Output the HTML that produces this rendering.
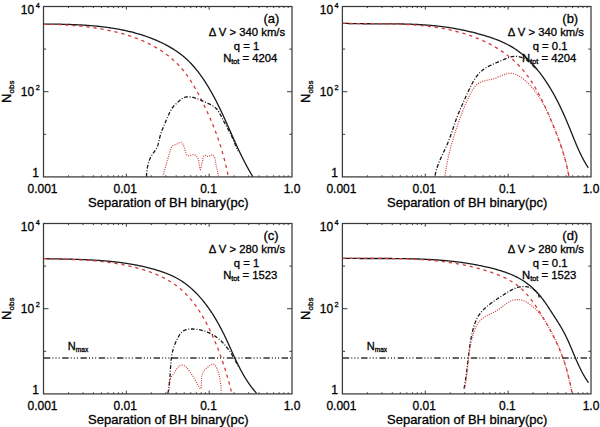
<!DOCTYPE html>
<html><head><meta charset="utf-8"><style>
html,body{margin:0;padding:0;background:#fff;}
svg{display:block;font-family:"Liberation Sans", sans-serif;}
text{stroke:#000;stroke-width:0.3px;paint-order:stroke;}
</style></head><body>
<svg width="600" height="427" viewBox="0 0 600 427" fill="#000">
<rect x="43.5" y="6.5" width="248.50" height="170.40" fill="none" stroke="#3a3a3a" stroke-width="1.25"/>
<path d="M68.44 176.9v-1.6M68.44 6.5v1.6M83.02 176.9v-1.6M83.02 6.5v1.6M93.37 176.9v-1.6M93.37 6.5v1.6M101.40 176.9v-1.6M101.40 6.5v1.6M107.96 176.9v-1.6M107.96 6.5v1.6M113.50 176.9v-1.6M113.50 6.5v1.6M118.31 176.9v-1.6M118.31 6.5v1.6M122.54 176.9v-1.6M122.54 6.5v1.6M126.33 176.9v-3.2M126.33 6.5v3.2M151.27 176.9v-1.6M151.27 6.5v1.6M165.85 176.9v-1.6M165.85 6.5v1.6M176.20 176.9v-1.6M176.20 6.5v1.6M184.23 176.9v-1.6M184.23 6.5v1.6M190.79 176.9v-1.6M190.79 6.5v1.6M196.34 176.9v-1.6M196.34 6.5v1.6M201.14 176.9v-1.6M201.14 6.5v1.6M205.38 176.9v-1.6M205.38 6.5v1.6M209.17 176.9v-3.2M209.17 6.5v3.2M234.10 176.9v-1.6M234.10 6.5v1.6M248.69 176.9v-1.6M248.69 6.5v1.6M259.04 176.9v-1.6M259.04 6.5v1.6M267.06 176.9v-1.6M267.06 6.5v1.6M273.62 176.9v-1.6M273.62 6.5v1.6M279.17 176.9v-1.6M279.17 6.5v1.6M283.97 176.9v-1.6M283.97 6.5v1.6M288.21 176.9v-1.6M288.21 6.5v1.6M43.5 134.30h2.7M292.0 134.30h-2.7M43.5 91.70h5M292.0 91.70h-5M43.5 49.10h2.7M292.0 49.10h-2.7" stroke="#3a3a3a" stroke-width="1" fill="none"/>
<text x="42.50" y="193.30" font-size="12" text-anchor="middle">0.001</text>
<text x="125.23" y="193.30" font-size="12" text-anchor="middle">0.01</text>
<text x="208.47" y="193.30" font-size="12" text-anchor="middle">0.1</text>
<text x="292.00" y="193.30" font-size="12" text-anchor="middle">1.0</text>
<text x="39.00" y="177.00" font-size="12" text-anchor="end">1</text>
<text x="34.20" y="95.90" font-size="12" text-anchor="end">10</text>
<text x="35.70" y="90.00" font-size="7.3">2</text>
<text x="34.20" y="13.75" font-size="12" text-anchor="end">10</text>
<text x="35.70" y="7.85" font-size="7.3">4</text>
<text x="88.10" y="207.40" font-size="13">Separation of BH binary(pc)</text>
<g transform="translate(11.30,102.90) rotate(-90)"><text x="0" y="0" font-size="13">N</text><text x="9.4" y="2.7" font-size="8">obs</text></g>
<rect x="342.4" y="6.5" width="248.60" height="170.40" fill="none" stroke="#3a3a3a" stroke-width="1.25"/>
<path d="M367.35 176.9v-1.6M367.35 6.5v1.6M381.94 176.9v-1.6M381.94 6.5v1.6M392.29 176.9v-1.6M392.29 6.5v1.6M400.32 176.9v-1.6M400.32 6.5v1.6M406.88 176.9v-1.6M406.88 6.5v1.6M412.43 176.9v-1.6M412.43 6.5v1.6M417.24 176.9v-1.6M417.24 6.5v1.6M421.47 176.9v-1.6M421.47 6.5v1.6M425.27 176.9v-3.2M425.27 6.5v3.2M450.21 176.9v-1.6M450.21 6.5v1.6M464.80 176.9v-1.6M464.80 6.5v1.6M475.16 176.9v-1.6M475.16 6.5v1.6M483.19 176.9v-1.6M483.19 6.5v1.6M489.75 176.9v-1.6M489.75 6.5v1.6M495.30 176.9v-1.6M495.30 6.5v1.6M500.10 176.9v-1.6M500.10 6.5v1.6M504.34 176.9v-1.6M504.34 6.5v1.6M508.13 176.9v-3.2M508.13 6.5v3.2M533.08 176.9v-1.6M533.08 6.5v1.6M547.67 176.9v-1.6M547.67 6.5v1.6M558.02 176.9v-1.6M558.02 6.5v1.6M566.05 176.9v-1.6M566.05 6.5v1.6M572.62 176.9v-1.6M572.62 6.5v1.6M578.16 176.9v-1.6M578.16 6.5v1.6M582.97 176.9v-1.6M582.97 6.5v1.6M587.21 176.9v-1.6M587.21 6.5v1.6M342.4 134.30h2.7M591.0 134.30h-2.7M342.4 91.70h5M591.0 91.70h-5M342.4 49.10h2.7M591.0 49.10h-2.7" stroke="#3a3a3a" stroke-width="1" fill="none"/>
<text x="341.40" y="193.30" font-size="12" text-anchor="middle">0.001</text>
<text x="424.17" y="193.30" font-size="12" text-anchor="middle">0.01</text>
<text x="507.43" y="193.30" font-size="12" text-anchor="middle">0.1</text>
<text x="591.00" y="193.30" font-size="12" text-anchor="middle">1.0</text>
<text x="337.90" y="177.00" font-size="12" text-anchor="end">1</text>
<text x="333.10" y="95.90" font-size="12" text-anchor="end">10</text>
<text x="334.60" y="90.00" font-size="7.3">2</text>
<text x="333.10" y="13.75" font-size="12" text-anchor="end">10</text>
<text x="334.60" y="7.85" font-size="7.3">4</text>
<text x="387.00" y="207.40" font-size="13">Separation of BH binary(pc)</text>
<g transform="translate(310.20,102.90) rotate(-90)"><text x="0" y="0" font-size="13">N</text><text x="9.4" y="2.7" font-size="8">obs</text></g>
<rect x="43.5" y="223.5" width="248.50" height="170.40" fill="none" stroke="#3a3a3a" stroke-width="1.25"/>
<path d="M68.44 393.9v-1.6M68.44 223.5v1.6M83.02 393.9v-1.6M83.02 223.5v1.6M93.37 393.9v-1.6M93.37 223.5v1.6M101.40 393.9v-1.6M101.40 223.5v1.6M107.96 393.9v-1.6M107.96 223.5v1.6M113.50 393.9v-1.6M113.50 223.5v1.6M118.31 393.9v-1.6M118.31 223.5v1.6M122.54 393.9v-1.6M122.54 223.5v1.6M126.33 393.9v-3.2M126.33 223.5v3.2M151.27 393.9v-1.6M151.27 223.5v1.6M165.85 393.9v-1.6M165.85 223.5v1.6M176.20 393.9v-1.6M176.20 223.5v1.6M184.23 393.9v-1.6M184.23 223.5v1.6M190.79 393.9v-1.6M190.79 223.5v1.6M196.34 393.9v-1.6M196.34 223.5v1.6M201.14 393.9v-1.6M201.14 223.5v1.6M205.38 393.9v-1.6M205.38 223.5v1.6M209.17 393.9v-3.2M209.17 223.5v3.2M234.10 393.9v-1.6M234.10 223.5v1.6M248.69 393.9v-1.6M248.69 223.5v1.6M259.04 393.9v-1.6M259.04 223.5v1.6M267.06 393.9v-1.6M267.06 223.5v1.6M273.62 393.9v-1.6M273.62 223.5v1.6M279.17 393.9v-1.6M279.17 223.5v1.6M283.97 393.9v-1.6M283.97 223.5v1.6M288.21 393.9v-1.6M288.21 223.5v1.6M43.5 351.30h2.7M292.0 351.30h-2.7M43.5 308.70h5M292.0 308.70h-5M43.5 266.10h2.7M292.0 266.10h-2.7" stroke="#3a3a3a" stroke-width="1" fill="none"/>
<text x="42.50" y="410.30" font-size="12" text-anchor="middle">0.001</text>
<text x="125.23" y="410.30" font-size="12" text-anchor="middle">0.01</text>
<text x="208.47" y="410.30" font-size="12" text-anchor="middle">0.1</text>
<text x="292.00" y="410.30" font-size="12" text-anchor="middle">1.0</text>
<text x="39.00" y="394.00" font-size="12" text-anchor="end">1</text>
<text x="34.20" y="312.90" font-size="12" text-anchor="end">10</text>
<text x="35.70" y="307.00" font-size="7.3">2</text>
<text x="34.20" y="230.75" font-size="12" text-anchor="end">10</text>
<text x="35.70" y="224.85" font-size="7.3">4</text>
<text x="88.10" y="424.40" font-size="13">Separation of BH binary(pc)</text>
<g transform="translate(11.30,319.90) rotate(-90)"><text x="0" y="0" font-size="13">N</text><text x="9.4" y="2.7" font-size="8">obs</text></g>
<rect x="342.4" y="223.5" width="248.60" height="170.40" fill="none" stroke="#3a3a3a" stroke-width="1.25"/>
<path d="M367.35 393.9v-1.6M367.35 223.5v1.6M381.94 393.9v-1.6M381.94 223.5v1.6M392.29 393.9v-1.6M392.29 223.5v1.6M400.32 393.9v-1.6M400.32 223.5v1.6M406.88 393.9v-1.6M406.88 223.5v1.6M412.43 393.9v-1.6M412.43 223.5v1.6M417.24 393.9v-1.6M417.24 223.5v1.6M421.47 393.9v-1.6M421.47 223.5v1.6M425.27 393.9v-3.2M425.27 223.5v3.2M450.21 393.9v-1.6M450.21 223.5v1.6M464.80 393.9v-1.6M464.80 223.5v1.6M475.16 393.9v-1.6M475.16 223.5v1.6M483.19 393.9v-1.6M483.19 223.5v1.6M489.75 393.9v-1.6M489.75 223.5v1.6M495.30 393.9v-1.6M495.30 223.5v1.6M500.10 393.9v-1.6M500.10 223.5v1.6M504.34 393.9v-1.6M504.34 223.5v1.6M508.13 393.9v-3.2M508.13 223.5v3.2M533.08 393.9v-1.6M533.08 223.5v1.6M547.67 393.9v-1.6M547.67 223.5v1.6M558.02 393.9v-1.6M558.02 223.5v1.6M566.05 393.9v-1.6M566.05 223.5v1.6M572.62 393.9v-1.6M572.62 223.5v1.6M578.16 393.9v-1.6M578.16 223.5v1.6M582.97 393.9v-1.6M582.97 223.5v1.6M587.21 393.9v-1.6M587.21 223.5v1.6M342.4 351.30h2.7M591.0 351.30h-2.7M342.4 308.70h5M591.0 308.70h-5M342.4 266.10h2.7M591.0 266.10h-2.7" stroke="#3a3a3a" stroke-width="1" fill="none"/>
<text x="341.40" y="410.30" font-size="12" text-anchor="middle">0.001</text>
<text x="424.17" y="410.30" font-size="12" text-anchor="middle">0.01</text>
<text x="507.43" y="410.30" font-size="12" text-anchor="middle">0.1</text>
<text x="591.00" y="410.30" font-size="12" text-anchor="middle">1.0</text>
<text x="337.90" y="394.00" font-size="12" text-anchor="end">1</text>
<text x="333.10" y="312.90" font-size="12" text-anchor="end">10</text>
<text x="334.60" y="307.00" font-size="7.3">2</text>
<text x="333.10" y="230.75" font-size="12" text-anchor="end">10</text>
<text x="334.60" y="224.85" font-size="7.3">4</text>
<text x="387.00" y="424.40" font-size="13">Separation of BH binary(pc)</text>
<g transform="translate(310.20,319.90) rotate(-90)"><text x="0" y="0" font-size="13">N</text><text x="9.4" y="2.7" font-size="8">obs</text></g>
<text x="263.40" y="23.40" font-size="13">(a)</text>
<text x="208.80" y="36.30" font-size="11.3">Δ V &gt; 340 km/s</text>
<text x="233.80" y="49.80" font-size="11.3">q = 1</text>
<text x="223.20" y="62.00" font-size="11.3">N<tspan font-size="7.2" dy="2.3">tot</tspan><tspan dy="-2.3"> = 4204</tspan></text>
<text x="562.30" y="23.40" font-size="13">(b)</text>
<text x="507.70" y="36.30" font-size="11.3">Δ V &gt; 340 km/s</text>
<text x="532.70" y="49.80" font-size="11.3">q = 0.1</text>
<text x="522.10" y="62.00" font-size="11.3">N<tspan font-size="7.2" dy="2.3">tot</tspan><tspan dy="-2.3"> = 4204</tspan></text>
<text x="263.40" y="240.40" font-size="13">(c)</text>
<text x="208.80" y="253.30" font-size="11.3">Δ V &gt; 280 km/s</text>
<text x="233.80" y="266.80" font-size="11.3">q = 1</text>
<text x="223.20" y="279.00" font-size="11.3">N<tspan font-size="7.2" dy="2.3">tot</tspan><tspan dy="-2.3"> = 1523</tspan></text>
<text x="562.30" y="240.40" font-size="13">(d)</text>
<text x="507.70" y="253.30" font-size="11.3">Δ V &gt; 280 km/s</text>
<text x="532.70" y="266.80" font-size="11.3">q = 0.1</text>
<text x="522.10" y="279.00" font-size="11.3">N<tspan font-size="7.2" dy="2.3">tot</tspan><tspan dy="-2.3"> = 1523</tspan></text>
<text x="67.80" y="349.9" font-size="11">N<tspan font-size="6.6" dy="1.9">max</tspan></text>
<text x="366.70" y="349.9" font-size="11">N<tspan font-size="6.6" dy="1.9">max</tspan></text>
<defs><clipPath id="clipa"><rect x="43.5" y="6.5" width="248.50" height="170.40"/></clipPath><clipPath id="clipb"><rect x="342.4" y="6.5" width="248.60" height="170.40"/></clipPath><clipPath id="clipc"><rect x="43.5" y="223.5" width="248.50" height="170.40"/></clipPath><clipPath id="clipd"><rect x="342.4" y="223.5" width="248.60" height="170.40"/></clipPath></defs>
<g clip-path="url(#clipa)">
<path d="M43.57 24.11L44.55 24.11L45.53 24.12L46.51 24.12L47.49 24.12L48.47 24.13L49.46 24.13L50.44 24.14L51.43 24.15L52.42 24.15L53.41 24.16L54.40 24.17L55.39 24.18L56.39 24.20L57.38 24.21L58.38 24.22L59.38 24.24L60.37 24.26L61.37 24.27L62.37 24.29L63.37 24.31L64.37 24.34L65.38 24.36L66.38 24.39L67.38 24.41L68.39 24.44L69.39 24.47L70.40 24.51L71.40 24.54L72.41 24.58L73.42 24.62L74.43 24.66L75.43 24.70L76.44 24.74L77.45 24.79L78.46 24.84L79.47 24.89L80.48 24.94L81.49 25.00L82.50 25.06L83.51 25.12L84.52 25.18L85.53 25.25L86.54 25.32L87.55 25.39L88.56 25.46L89.57 25.54L90.58 25.62L91.59 25.70L92.60 25.79L93.61 25.88L94.62 25.97L95.63 26.06L96.64 26.16L97.65 26.26L98.65 26.37L99.66 26.48L100.67 26.59L101.67 26.70L102.68 26.82L103.69 26.94L104.69 27.07L105.69 27.20L106.70 27.33L107.70 27.47L108.70 27.61L109.70 27.75L110.70 27.90L111.70 28.05L112.70 28.20L113.70 28.36L114.69 28.53L115.69 28.70L116.68 28.87L117.67 29.05L118.67 29.23L119.66 29.41L120.65 29.60L121.63 29.80L122.62 29.99L123.61 30.20L124.59 30.40L125.57 30.62L126.55 30.83L127.53 31.06L128.51 31.28L129.49 31.51L130.46 31.75L131.44 31.99L132.41 32.24L133.38 32.49L134.35 32.75L135.31 33.01L136.28 33.28L137.24 33.55L138.20 33.83L139.16 34.11L140.12 34.40L141.07 34.69L142.03 34.99L142.98 35.30L143.93 35.61L144.87 35.93L145.82 36.25L146.76 36.58L147.70 36.91L148.64 37.25L149.57 37.60L150.51 37.95L151.44 38.31L152.37 38.67L153.29 39.04L154.21 39.42L155.14 39.80L156.05 40.19L156.97 40.59L157.88 40.99L158.79 41.40L159.70 41.81L160.60 42.24L161.51 42.66L162.41 43.10L163.30 43.54L164.20 43.99L165.09 44.45L165.97 44.91L166.86 45.38L167.74 45.85L168.61 46.34L169.49 46.83L170.35 47.33L171.22 47.84L172.08 48.35L172.93 48.87L173.78 49.40L174.62 49.94L175.46 50.49L176.29 51.04L177.12 51.61L177.94 52.18L178.75 52.76L179.56 53.35L180.36 53.95L181.15 54.56L181.94 55.18L182.72 55.80L183.49 56.44L184.26 57.09L185.01 57.74L185.76 58.40L186.50 59.08L187.23 59.76L187.96 60.45L188.68 61.15L189.39 61.86L190.09 62.57L190.79 63.30L191.47 64.03L192.16 64.77L192.83 65.51L193.50 66.26L194.16 67.02L194.82 67.79L195.46 68.56L196.11 69.34L196.74 70.13L197.37 70.92L197.99 71.71L198.61 72.51L199.22 73.32L199.82 74.13L200.42 74.95L201.01 75.77L201.60 76.59L202.18 77.42L202.76 78.25L203.33 79.09L203.89 79.93L204.45 80.77L205.00 81.62L205.55 82.47L206.09 83.32L206.63 84.17L207.17 85.03L207.69 85.89L208.22 86.75L208.74 87.61L209.25 88.48L209.76 89.34L210.27 90.21L210.77 91.09L211.26 91.96L211.76 92.83L212.25 93.71L212.73 94.59L213.21 95.47L213.69 96.36L214.16 97.24L214.63 98.13L215.10 99.02L215.56 99.91L216.02 100.80L216.48 101.69L216.94 102.58L217.39 103.48L217.83 104.38L218.28 105.27L218.72 106.17L219.16 107.08L219.60 107.98L220.04 108.88L220.47 109.79L220.90 110.69L221.33 111.60L221.75 112.50L222.18 113.41L222.60 114.32L223.02 115.23L223.44 116.14L223.86 117.05L224.28 117.97L224.69 118.88L225.11 119.79L225.52 120.71L225.93 121.62L226.34 122.54L226.75 123.45L227.16 124.37L227.57 125.28L227.98 126.20L228.38 127.12L228.79 128.03L229.20 128.95L229.60 129.87L230.01 130.79L230.42 131.70L230.82 132.62L231.23 133.54L231.64 134.45L232.04 135.37L232.45 136.29L232.86 137.20L233.27 138.12L233.68 139.04L234.09 139.95L234.50 140.87L234.91 141.78L235.32 142.69L235.74 143.61L236.15 144.52L236.57 145.43L236.99 146.34L237.41 147.25L237.83 148.16L238.25 149.07L238.68 149.98L239.11 150.89L239.54 151.79L239.97 152.70L240.40 153.60L240.84 154.51L241.28 155.41L241.72 156.31L242.16 157.21L242.61 158.11L243.06 159.00L243.51 159.90L243.96 160.79L244.42 161.68L244.88 162.57L245.35 163.46L245.82 164.35L246.29 165.24L246.76 166.12L247.24 167.00L247.73 167.88L248.21 168.76L248.70 169.64L249.20 170.52L249.70 171.39L250.20 172.26L250.71 173.13L251.22 174.00L251.73 174.86L252.25 175.72L252.78 176.58" fill="none" stroke="#1a1a1a" stroke-width="1.3" stroke-linejoin="round"/>
<path d="M43.85 24.27L44.79 24.28L45.72 24.29L46.67 24.31L47.61 24.33L48.56 24.34L49.51 24.36L50.47 24.39L51.42 24.41L52.38 24.44L53.35 24.46L54.31 24.49L55.28 24.53L56.25 24.56L57.22 24.60L58.20 24.63L59.18 24.67L60.16 24.72L61.14 24.76L62.12 24.81L63.11 24.86L64.10 24.91L65.09 24.96L66.08 25.02L67.07 25.08L68.07 25.14L69.07 25.21L70.07 25.28L71.07 25.35L72.07 25.42L73.07 25.49L74.08 25.57L75.08 25.66L76.09 25.74L77.10 25.83L78.10 25.92L79.11 26.01L80.12 26.11L81.14 26.21L82.15 26.32L83.16 26.42L84.17 26.53L85.19 26.65L86.20 26.77L87.22 26.89L88.23 27.01L89.25 27.14L90.26 27.27L91.28 27.41L92.29 27.55L93.31 27.69L94.32 27.84L95.34 27.99L96.35 28.14L97.37 28.30L98.38 28.46L99.39 28.63L100.40 28.80L101.42 28.98L102.43 29.16L103.44 29.34L104.45 29.53L105.46 29.72L106.46 29.92L107.47 30.12L108.48 30.32L109.48 30.53L110.48 30.75L111.49 30.97L112.49 31.19L113.48 31.42L114.48 31.65L115.48 31.89L116.47 32.14L117.46 32.38L118.45 32.64L119.44 32.90L120.43 33.16L121.41 33.43L122.39 33.70L123.37 33.98L124.35 34.26L125.33 34.55L126.30 34.85L127.27 35.15L128.24 35.45L129.20 35.76L130.17 36.08L131.13 36.40L132.08 36.73L133.04 37.06L133.99 37.40L134.94 37.75L135.88 38.10L136.82 38.46L137.76 38.82L138.70 39.19L139.63 39.56L140.56 39.94L141.48 40.33L142.40 40.72L143.32 41.12L144.24 41.53L145.15 41.94L146.05 42.35L146.95 42.78L147.85 43.21L148.75 43.65L149.64 44.09L150.52 44.54L151.40 45.00L152.28 45.46L153.15 45.93L154.02 46.41L154.88 46.89L155.74 47.38L156.59 47.88L157.44 48.38L158.29 48.89L159.13 49.41L159.96 49.94L160.79 50.47L161.61 51.01L162.43 51.56L163.24 52.11L164.05 52.67L164.85 53.24L165.65 53.82L166.44 54.40L167.23 54.99L168.01 55.59L168.78 56.20L169.55 56.81L170.31 57.43L171.07 58.06L171.82 58.70L172.56 59.34L173.30 60.00L174.03 60.66L174.76 61.33L175.47 62.00L176.19 62.69L176.89 63.38L177.59 64.08L178.28 64.79L178.97 65.51L179.65 66.24L180.32 66.97L180.98 67.71L181.64 68.46L182.29 69.22L182.93 69.99L183.57 70.77L184.20 71.55L184.82 72.35L185.43 73.15L186.04 73.96L186.64 74.77L187.24 75.59L187.82 76.42L188.41 77.26L188.98 78.10L189.55 78.95L190.11 79.80L190.67 80.66L191.22 81.53L191.77 82.40L192.31 83.27L192.84 84.15L193.37 85.03L193.90 85.92L194.42 86.81L194.93 87.70L195.44 88.60L195.94 89.50L196.45 90.40L196.94 91.30L197.43 92.21L197.92 93.11L198.40 94.02L198.88 94.93L199.36 95.84L199.83 96.75L200.30 97.66L200.77 98.57L201.23 99.49L201.69 100.40L202.14 101.31L202.59 102.21L203.04 103.12L203.49 104.03L203.93 104.94L204.37 105.84L204.81 106.75L205.24 107.65L205.68 108.56L206.10 109.46L206.53 110.37L206.95 111.27L207.37 112.18L207.79 113.09L208.20 113.99L208.61 114.90L209.02 115.81L209.42 116.71L209.82 117.62L210.22 118.53L210.62 119.44L211.01 120.36L211.40 121.27L211.78 122.18L212.17 123.10L212.54 124.02L212.92 124.94L213.29 125.86L213.66 126.79L214.03 127.71L214.40 128.64L214.76 129.57L215.11 130.50L215.47 131.44L215.82 132.37L216.17 133.31L216.51 134.25L216.85 135.19L217.19 136.13L217.53 137.08L217.86 138.03L218.19 138.97L218.51 139.92L218.84 140.88L219.16 141.83L219.47 142.78L219.78 143.74L220.09 144.70L220.40 145.66L220.70 146.62L221.00 147.58L221.30 148.54L221.59 149.51L221.88 150.47L222.16 151.44L222.44 152.41L222.72 153.38L223.00 154.35L223.27 155.32L223.54 156.29L223.80 157.27L224.06 158.24L224.32 159.22L224.58 160.19L224.83 161.17L225.07 162.15L225.32 163.13L225.56 164.11L225.79 165.09L226.03 166.07L226.25 167.05L226.48 168.03L226.70 169.02L226.92 170.00L227.14 170.98L227.35 171.97L227.55 172.95L227.76 173.94L227.96 174.92L228.15 175.91L228.35 176.89" fill="none" stroke="#d43c3c" stroke-width="1.3" stroke-dasharray="3.3 3.8"/>
<path d="M146.40 176.70L146.47 175.72L146.54 174.74L146.62 173.75L146.71 172.75L146.82 171.75L146.94 170.74L147.07 169.74L147.22 168.73L147.39 167.72L147.57 166.72L147.78 165.72L148.00 164.73L148.25 163.74L148.52 162.76L148.82 161.79L149.14 160.83L149.49 159.88L149.87 158.94L150.28 158.02L150.72 157.12L151.20 156.23L151.70 155.36L152.24 154.51L152.82 153.68L153.41 152.86L154.01 152.05L154.61 151.24L155.20 150.43L155.76 149.60L156.29 148.76L156.77 147.89L157.19 146.99L157.56 146.07L157.88 145.13L158.17 144.16L158.42 143.19L158.66 142.20L158.88 141.20L159.10 140.21L159.32 139.21L159.56 138.22L159.81 137.24L160.07 136.26L160.35 135.29L160.65 134.33L160.96 133.37L161.28 132.43L161.62 131.48L161.96 130.54L162.32 129.60L162.68 128.67L163.06 127.74L163.44 126.82L163.83 125.89L164.22 124.97L164.62 124.05L165.02 123.13L165.42 122.20L165.83 121.28L166.24 120.36L166.64 119.44L167.05 118.51L167.46 117.58L167.86 116.65L168.26 115.71L168.66 114.77L169.06 113.84L169.47 112.91L169.89 111.99L170.33 111.09L170.80 110.21L171.30 109.35L171.83 108.52L172.40 107.73L173.02 106.97L173.67 106.23L174.35 105.52L175.05 104.82L175.77 104.14L176.51 103.45L177.25 102.76L178.00 102.06L178.74 101.35L179.49 100.64L180.26 99.96L181.04 99.31L181.84 98.71L182.68 98.19L183.55 97.74L184.47 97.40L185.42 97.15L186.40 97.00L187.39 96.91L188.37 96.88L189.35 96.91L190.32 96.99L191.29 97.11L192.26 97.28L193.22 97.49L194.18 97.73L195.14 98.01L196.09 98.31L197.04 98.65L197.99 99.01L198.93 99.38L199.88 99.78L200.82 100.18L201.76 100.60L202.70 101.02L203.63 101.45L204.57 101.87L205.51 102.29L206.44 102.70L207.37 103.12L208.29 103.53L209.20 103.95L210.10 104.38L210.99 104.83L211.85 105.29L212.69 105.79L213.50 106.31L214.29 106.86L215.04 107.46L215.76 108.10L216.45 108.78L217.09 109.52L217.70 110.29L218.28 111.11L218.83 111.95L219.36 112.82L219.87 113.72L220.37 114.63L220.85 115.56L221.32 116.50L221.78 117.44L222.24 118.37L222.70 119.31L223.17 120.23L223.64 121.13L224.12 122.03L224.60 122.92L225.08 123.79L225.57 124.66L226.05 125.53L226.54 126.39L227.03 127.25L227.51 128.11L227.99 128.97L228.47 129.83L228.94 130.70L229.41 131.57L229.86 132.45L230.32 133.34L230.76 134.24L231.20 135.15L231.62 136.07L232.05 136.99L232.46 137.92L232.87 138.85L233.27 139.78L233.67 140.72L234.06 141.66L234.45 142.61L234.84 143.55L235.22 144.49L235.59 145.43L235.97 146.37L236.33 147.30L236.70 148.23L237.07 149.16L237.43 150.08L237.79 150.99" fill="none" stroke="#1a1a1a" stroke-width="1.3" stroke-dasharray="3.8 1.7 1 1.7"/>
<path d="M162.86 176.70L163.14 175.71L163.42 174.72L163.69 173.74L163.96 172.76L164.23 171.78L164.49 170.80L164.76 169.83L165.02 168.86L165.29 167.90L165.55 166.93L165.81 165.97L166.08 165.01L166.34 164.04L166.61 163.08L166.87 162.12L167.14 161.16L167.41 160.20L167.69 159.23L167.97 158.27L168.25 157.30L168.53 156.33L168.82 155.36L169.11 154.39L169.41 153.41L169.71 152.44L170.02 151.45L170.33 150.47L170.65 149.48L171.00 148.51L171.41 147.60L171.90 146.78L172.50 146.08L173.23 145.53L174.09 145.10L175.04 144.75L176.02 144.41L177.02 144.02L177.99 143.55L178.90 143.00L179.75 142.52L180.55 142.24L181.29 142.31L181.97 142.81L182.59 143.62L183.14 144.64L183.61 145.72L184.02 146.75L184.36 147.66L184.65 148.50L184.91 149.35L185.18 150.26L185.45 151.29L185.77 152.41L186.13 153.54L186.57 154.56L187.10 155.37L187.73 155.85L188.48 155.98L189.32 155.85L190.25 155.53L191.26 155.13L192.30 154.76L193.34 154.56L194.32 154.68L195.22 155.09L196.02 155.70L196.73 156.45L197.32 157.28L197.79 158.11L198.16 158.97L198.45 159.86L198.67 160.77L198.84 161.74L198.99 162.75L199.12 163.83L199.26 164.97L199.43 166.19L199.63 167.45L199.86 168.59L200.11 169.37L200.37 169.59L200.63 169.14L200.87 168.21L201.12 167.03L201.36 165.82L201.60 164.73L201.83 163.73L202.06 162.78L202.29 161.83L202.51 160.82L202.72 159.71L202.94 158.51L203.20 157.33L203.52 156.29L203.96 155.53L204.54 155.17L205.28 155.31L206.16 155.76L207.12 156.24L208.09 156.48L209.03 156.25L209.92 155.72L210.79 155.14L211.64 154.78L212.47 154.86L213.24 155.35L213.91 156.11L214.41 156.97L214.79 157.92L215.06 158.93L215.26 159.98L215.41 161.05L215.55 162.11L215.71 163.16L215.88 164.18L216.08 165.18L216.30 166.16L216.52 167.13L216.76 168.09L216.99 169.04L217.22 169.99L217.44 170.95L217.64 171.91L217.83 172.89L217.99 173.88L218.13 174.89L218.23 175.93L218.30 177.00" fill="none" stroke="#d43c3c" stroke-width="1.2" stroke-dasharray="1 1.3"/>
</g>
<g clip-path="url(#clipb)">
<path d="M342.39 23.31L343.40 23.34L344.40 23.38L345.41 23.41L346.41 23.44L347.42 23.47L348.42 23.50L349.43 23.53L350.43 23.55L351.44 23.57L352.44 23.59L353.45 23.61L354.45 23.63L355.46 23.65L356.46 23.66L357.47 23.68L358.47 23.69L359.48 23.70L360.49 23.71L361.49 23.72L362.50 23.73L363.50 23.74L364.51 23.75L365.52 23.75L366.52 23.76L367.53 23.76L368.53 23.77L369.54 23.77L370.54 23.78L371.55 23.78L372.56 23.78L373.56 23.78L374.57 23.79L375.57 23.79L376.58 23.79L377.59 23.79L378.59 23.79L379.60 23.80L380.60 23.80L381.61 23.80L382.62 23.80L383.62 23.81L384.63 23.81L385.63 23.81L386.64 23.82L387.64 23.82L388.65 23.83L389.65 23.83L390.66 23.84L391.66 23.85L392.67 23.85L393.67 23.86L394.68 23.87L395.68 23.88L396.69 23.90L397.69 23.91L398.70 23.92L399.70 23.94L400.70 23.96L401.71 23.97L402.71 23.99L403.71 24.02L404.72 24.04L405.72 24.06L406.72 24.09L407.73 24.12L408.73 24.15L409.73 24.18L410.74 24.21L411.74 24.25L412.74 24.29L413.74 24.33L414.74 24.37L415.75 24.41L416.75 24.46L417.75 24.51L418.75 24.56L419.75 24.61L420.75 24.67L421.75 24.73L422.75 24.79L423.75 24.85L424.75 24.92L425.75 24.99L426.75 25.06L427.75 25.14L428.75 25.22L429.74 25.30L430.74 25.38L431.74 25.47L432.74 25.56L433.74 25.66L434.73 25.75L435.73 25.85L436.73 25.96L437.72 26.07L438.72 26.18L439.71 26.30L440.71 26.41L441.70 26.54L442.70 26.66L443.69 26.80L444.69 26.93L445.68 27.07L446.68 27.21L447.67 27.36L448.66 27.51L449.65 27.66L450.65 27.82L451.64 27.98L452.63 28.14L453.62 28.31L454.61 28.49L455.60 28.66L456.59 28.84L457.58 29.03L458.56 29.21L459.55 29.41L460.54 29.60L461.53 29.80L462.51 30.00L463.50 30.21L464.48 30.42L465.47 30.64L466.45 30.85L467.43 31.08L468.42 31.30L469.40 31.53L470.38 31.77L471.36 32.00L472.34 32.24L473.32 32.49L474.30 32.74L475.28 32.99L476.25 33.25L477.23 33.51L478.21 33.77L479.18 34.04L480.16 34.31L481.13 34.58L482.10 34.86L483.07 35.14L484.04 35.43L485.01 35.72L485.98 36.01L486.95 36.31L487.91 36.62L488.88 36.93L489.84 37.24L490.80 37.56L491.75 37.89L492.71 38.22L493.66 38.56L494.60 38.90L495.55 39.25L496.49 39.61L497.43 39.97L498.36 40.34L499.29 40.72L500.22 41.11L501.14 41.50L502.06 41.90L502.97 42.31L503.88 42.73L504.78 43.15L505.68 43.59L506.57 44.03L507.46 44.48L508.34 44.95L509.22 45.42L510.09 45.90L510.95 46.39L511.81 46.89L512.66 47.40L513.50 47.92L514.34 48.46L515.17 49.00L515.99 49.55L516.81 50.12L517.61 50.69L518.42 51.28L519.21 51.87L520.00 52.47L520.78 53.09L521.56 53.71L522.32 54.34L523.09 54.98L523.84 55.63L524.59 56.28L525.33 56.95L526.07 57.62L526.80 58.30L527.52 58.99L528.23 59.68L528.94 60.38L529.65 61.09L530.35 61.80L531.04 62.52L531.72 63.25L532.40 63.98L533.08 64.72L533.75 65.47L534.41 66.21L535.06 66.97L535.71 67.73L536.36 68.49L537.00 69.26L537.63 70.04L538.26 70.82L538.88 71.60L539.50 72.39L540.11 73.18L540.72 73.98L541.32 74.78L541.91 75.59L542.50 76.40L543.09 77.21L543.67 78.03L544.24 78.85L544.81 79.68L545.38 80.51L545.94 81.34L546.49 82.18L547.04 83.02L547.59 83.87L548.13 84.72L548.67 85.57L549.20 86.43L549.72 87.29L550.25 88.15L550.77 89.01L551.28 89.88L551.79 90.75L552.30 91.63L552.80 92.50L553.29 93.38L553.79 94.27L554.28 95.15L554.76 96.04L555.24 96.93L555.72 97.82L556.19 98.72L556.66 99.61L557.13 100.51L557.59 101.41L558.05 102.32L558.50 103.22L558.95 104.13L559.40 105.04L559.85 105.95L560.29 106.86L560.72 107.77L561.16 108.69L561.59 109.60L562.02 110.52L562.44 111.44L562.86 112.36L563.28 113.28L563.70 114.20L564.11 115.12L564.52 116.05L564.93 116.97L565.33 117.90L565.73 118.82L566.13 119.75L566.53 120.68L566.92 121.60L567.31 122.53L567.70 123.46L568.09 124.38L568.47 125.31L568.86 126.24L569.24 127.17L569.61 128.09L569.99 129.02L570.36 129.95L570.74 130.88L571.11 131.80L571.48 132.73L571.85 133.65L572.22 134.58L572.59 135.50L572.96 136.42L573.33 137.35L573.70 138.27L574.08 139.19L574.45 140.11L574.83 141.03L575.21 141.95L575.59 142.86L575.97 143.78L576.36 144.69L576.75 145.61L577.14 146.52L577.54 147.43L577.94 148.34L578.34 149.25L578.75 150.15L579.16 151.06L579.58 151.96L580.01 152.86L580.44 153.76L580.87 154.66L581.32 155.55L581.76 156.45L582.22 157.34L582.68 158.23L583.15 159.12L583.63 160.00L584.11 160.88L584.61 161.76L585.11 162.64L585.62 163.52L586.13 164.39L586.66 165.26L587.20 166.13L587.75 166.99L588.30 167.86" fill="none" stroke="#1a1a1a" stroke-width="1.3" stroke-linejoin="round"/>
<path d="M342.43 23.37L343.40 23.39L344.37 23.41L345.35 23.43L346.32 23.45L347.30 23.47L348.28 23.48L349.26 23.50L350.24 23.51L351.22 23.52L352.21 23.53L353.19 23.54L354.18 23.55L355.17 23.56L356.15 23.57L357.14 23.58L358.14 23.59L359.13 23.59L360.12 23.60L361.12 23.60L362.11 23.61L363.11 23.62L364.10 23.62L365.10 23.63L366.10 23.63L367.10 23.64L368.10 23.64L369.10 23.65L370.11 23.65L371.11 23.66L372.11 23.66L373.12 23.67L374.13 23.68L375.13 23.69L376.14 23.69L377.15 23.70L378.15 23.71L379.16 23.72L380.17 23.73L381.18 23.74L382.19 23.76L383.20 23.77L384.21 23.79L385.23 23.80L386.24 23.82L387.25 23.84L388.26 23.86L389.28 23.88L390.29 23.90L391.30 23.92L392.32 23.95L393.33 23.97L394.35 24.00L395.36 24.03L396.38 24.06L397.39 24.10L398.41 24.13L399.42 24.17L400.44 24.21L401.45 24.25L402.47 24.30L403.48 24.34L404.50 24.39L405.51 24.44L406.53 24.49L407.54 24.55L408.56 24.61L409.57 24.67L410.58 24.73L411.60 24.79L412.61 24.86L413.63 24.93L414.64 25.01L415.65 25.08L416.66 25.16L417.68 25.25L418.69 25.33L419.70 25.42L420.71 25.52L421.72 25.61L422.73 25.71L423.74 25.81L424.75 25.92L425.76 26.03L426.77 26.14L427.77 26.26L428.78 26.38L429.78 26.50L430.79 26.63L431.79 26.76L432.80 26.90L433.80 27.04L434.80 27.18L435.80 27.33L436.80 27.48L437.80 27.64L438.80 27.80L439.80 27.96L440.80 28.13L441.79 28.31L442.79 28.48L443.78 28.67L444.77 28.86L445.76 29.05L446.75 29.25L447.74 29.45L448.73 29.65L449.72 29.87L450.70 30.08L451.69 30.31L452.67 30.53L453.65 30.77L454.63 31.00L455.61 31.25L456.59 31.50L457.57 31.75L458.54 32.01L459.52 32.27L460.49 32.55L461.46 32.82L462.43 33.10L463.39 33.39L464.36 33.69L465.33 33.99L466.29 34.29L467.25 34.60L468.21 34.92L469.17 35.25L470.12 35.58L471.07 35.91L472.03 36.25L472.97 36.60L473.92 36.96L474.87 37.32L475.81 37.69L476.75 38.06L477.68 38.44L478.62 38.82L479.55 39.22L480.47 39.61L481.40 40.02L482.32 40.43L483.24 40.85L484.15 41.27L485.07 41.70L485.97 42.13L486.88 42.58L487.78 43.03L488.68 43.48L489.57 43.94L490.46 44.41L491.34 44.89L492.22 45.37L493.10 45.86L493.97 46.35L494.84 46.85L495.70 47.36L496.56 47.87L497.42 48.39L498.27 48.92L499.11 49.46L499.95 50.00L500.78 50.54L501.61 51.10L502.44 51.66L503.26 52.23L504.07 52.80L504.88 53.38L505.68 53.97L506.48 54.57L507.27 55.17L508.05 55.78L508.83 56.39L509.61 57.01L510.37 57.64L511.13 58.28L511.89 58.92L512.64 59.57L513.38 60.23L514.11 60.89L514.84 61.57L515.56 62.24L516.28 62.93L516.99 63.62L517.69 64.32L518.38 65.03L519.07 65.74L519.75 66.46L520.42 67.19L521.08 67.93L521.74 68.67L522.39 69.42L523.04 70.17L523.67 70.94L524.30 71.70L524.92 72.48L525.54 73.26L526.15 74.05L526.75 74.84L527.35 75.64L527.94 76.45L528.52 77.26L529.10 78.07L529.67 78.89L530.24 79.72L530.80 80.55L531.35 81.39L531.90 82.23L532.45 83.08L532.98 83.93L533.52 84.78L534.04 85.64L534.57 86.50L535.08 87.37L535.59 88.24L536.10 89.12L536.60 90.00L537.10 90.88L537.59 91.77L538.08 92.66L538.57 93.55L539.04 94.45L539.52 95.34L539.99 96.25L540.46 97.15L540.92 98.06L541.38 98.97L541.84 99.88L542.29 100.79L542.73 101.71L543.18 102.63L543.62 103.55L544.06 104.47L544.49 105.39L544.92 106.32L545.35 107.24L545.78 108.17L546.20 109.10L546.62 110.03L547.04 110.96L547.45 111.89L547.86 112.82L548.27 113.75L548.68 114.68L549.08 115.61L549.49 116.55L549.89 117.48L550.29 118.41L550.68 119.34L551.08 120.27L551.47 121.21L551.86 122.14L552.25 123.07L552.63 124.00L553.02 124.93L553.40 125.87L553.78 126.80L554.16 127.73L554.53 128.67L554.90 129.60L555.27 130.53L555.64 131.47L556.00 132.40L556.36 133.34L556.72 134.27L557.07 135.21L557.43 136.15L557.78 137.08L558.12 138.02L558.47 138.96L558.81 139.90L559.15 140.84L559.48 141.78L559.81 142.72L560.14 143.66L560.46 144.61L560.79 145.55L561.10 146.50L561.42 147.44L561.73 148.39L562.04 149.34L562.34 150.29L562.64 151.24L562.94 152.19L563.23 153.15L563.52 154.10L563.81 155.06L564.09 156.01L564.37 156.97L564.65 157.93L564.92 158.89L565.18 159.85L565.45 160.82L565.70 161.79L565.96 162.75L566.21 163.72L566.46 164.69L566.70 165.66L566.94 166.64L567.17 167.61L567.40 168.59L567.62 169.57L567.84 170.55L568.06 171.54L568.27 172.52L568.47 173.51L568.68 174.50L568.87 175.49L569.07 176.48" fill="none" stroke="#d43c3c" stroke-width="1.3" stroke-dasharray="3.3 3.8"/>
<path d="M435.09 175.64L435.26 174.65L435.45 173.66L435.66 172.69L435.89 171.72L436.13 170.75L436.40 169.79L436.68 168.84L436.98 167.90L437.29 166.95L437.61 166.02L437.95 165.09L438.30 164.16L438.66 163.23L439.03 162.31L439.42 161.39L439.81 160.48L440.20 159.56L440.61 158.65L441.02 157.74L441.44 156.83L441.86 155.93L442.28 155.02L442.71 154.11L443.14 153.21L443.57 152.30L444.00 151.39L444.43 150.48L444.86 149.57L445.29 148.66L445.71 147.74L446.13 146.82L446.54 145.90L446.95 144.98L447.35 144.05L447.74 143.11L448.13 142.18L448.51 141.24L448.88 140.29L449.24 139.34L449.60 138.39L449.95 137.44L450.29 136.48L450.63 135.53L450.97 134.57L451.30 133.61L451.63 132.64L451.96 131.68L452.29 130.72L452.61 129.76L452.93 128.79L453.25 127.83L453.58 126.87L453.90 125.91L454.22 124.96L454.55 124.00L454.88 123.05L455.21 122.10L455.54 121.16L455.88 120.22L456.22 119.28L456.57 118.34L456.92 117.42L457.28 116.49L457.64 115.57L458.01 114.65L458.38 113.73L458.75 112.82L459.13 111.91L459.51 110.99L459.89 110.09L460.28 109.18L460.67 108.27L461.07 107.36L461.47 106.46L461.87 105.55L462.27 104.64L462.68 103.73L463.09 102.82L463.50 101.91L463.92 101.00L464.33 100.08L464.75 99.17L465.17 98.24L465.60 97.32L466.02 96.39L466.45 95.46L466.87 94.53L467.30 93.59L467.73 92.64L468.17 91.70L468.60 90.75L469.04 89.81L469.49 88.86L469.94 87.92L470.40 86.99L470.87 86.05L471.34 85.12L471.82 84.20L472.31 83.29L472.81 82.39L473.32 81.49L473.84 80.61L474.37 79.74L474.92 78.88L475.47 78.04L476.05 77.21L476.63 76.40L477.23 75.60L477.85 74.83L478.49 74.07L479.14 73.34L479.80 72.63L480.49 71.94L481.20 71.27L481.92 70.63L482.67 70.02L483.44 69.43L484.23 68.87L485.03 68.33L485.86 67.82L486.70 67.32L487.56 66.84L488.43 66.38L489.31 65.93L490.20 65.50L491.11 65.07L492.02 64.65L492.94 64.24L493.86 63.82L494.79 63.42L495.73 63.01L496.67 62.60L497.61 62.20L498.56 61.79L499.50 61.38L500.45 60.97L501.40 60.56L502.35 60.14L503.29 59.73L504.24 59.32L505.19 58.91L506.14 58.53L507.09 58.15L508.04 57.81L508.99 57.48L509.94 57.19L510.89 56.93L511.84 56.71L512.79 56.54L513.74 56.41L514.70 56.33L515.65 56.31L516.60 56.34L517.56 56.44L518.51 56.59L519.46 56.79L520.41 57.05L521.34 57.35L522.27 57.71L523.19 58.10L524.10 58.54L525.00 59.02L525.89 59.54L526.75 60.10L527.61 60.69L528.44 61.31L529.25 61.96L530.04 62.63L530.81 63.33L531.56 64.06L532.27 64.80L532.97 65.56L533.63 66.34L534.26 67.13L534.86 67.93L535.42 68.74L535.96 69.55" fill="none" stroke="#1a1a1a" stroke-width="1.3" stroke-dasharray="3.8 1.7 1 1.7"/>
<path d="M445.03 175.65L445.16 174.66L445.29 173.67L445.43 172.68L445.58 171.69L445.73 170.70L445.88 169.72L446.04 168.73L446.21 167.74L446.38 166.75L446.56 165.76L446.74 164.77L446.93 163.79L447.12 162.80L447.32 161.82L447.52 160.83L447.73 159.85L447.94 158.86L448.16 157.88L448.38 156.89L448.60 155.91L448.83 154.93L449.06 153.95L449.30 152.97L449.54 151.99L449.79 151.01L450.04 150.03L450.29 149.05L450.55 148.08L450.81 147.10L451.08 146.12L451.35 145.15L451.62 144.18L451.89 143.20L452.17 142.23L452.45 141.26L452.74 140.29L453.03 139.32L453.32 138.35L453.62 137.38L453.91 136.42L454.21 135.45L454.52 134.49L454.82 133.52L455.13 132.56L455.45 131.60L455.76 130.64L456.08 129.68L456.39 128.72L456.72 127.77L457.04 126.81L457.36 125.86L457.69 124.90L458.02 123.95L458.35 123.00L458.69 122.05L459.02 121.10L459.36 120.16L459.70 119.21L460.04 118.27L460.38 117.33L460.72 116.38L461.07 115.44L461.42 114.51L461.77 113.57L462.13 112.63L462.48 111.70L462.85 110.76L463.21 109.83L463.58 108.90L463.95 107.97L464.33 107.04L464.71 106.11L465.10 105.19L465.49 104.26L465.89 103.34L466.29 102.42L466.70 101.49L467.11 100.57L467.54 99.65L467.96 98.74L468.40 97.82L468.84 96.90L469.28 95.99L469.74 95.08L470.20 94.16L470.67 93.25L471.15 92.34L471.64 91.44L472.14 90.54L472.66 89.66L473.21 88.79L473.78 87.95L474.38 87.14L475.01 86.37L475.68 85.63L476.40 84.93L477.16 84.28L477.96 83.68L478.81 83.13L479.69 82.63L480.60 82.18L481.53 81.78L482.47 81.42L483.42 81.10L484.37 80.82L485.33 80.58L486.28 80.35L487.25 80.15L488.21 79.96L489.18 79.76L490.15 79.57L491.13 79.37L492.10 79.15L493.08 78.90L494.05 78.62L495.03 78.31L496.01 77.96L496.99 77.58L497.97 77.18L498.94 76.76L499.92 76.34L500.90 75.92L501.87 75.50L502.84 75.10L503.81 74.72L504.77 74.37L505.74 74.06L506.70 73.78L507.65 73.56L508.61 73.40L509.55 73.30L510.50 73.27L511.43 73.31L512.37 73.42L513.29 73.59L514.21 73.82L515.12 74.11L516.03 74.45L516.93 74.84L517.81 75.28L518.69 75.76L519.56 76.28L520.42 76.83L521.27 77.42L522.11 78.03L522.94 78.68L523.75 79.34L524.56 80.02L525.35 80.71L526.12 81.42L526.89 82.13L527.64 82.85L528.37 83.58L529.09 84.31L529.80 85.05L530.50 85.79L531.18 86.54L531.85 87.30L532.51 88.06L533.16 88.83L533.80 89.60L534.42 90.38L535.04 91.17L535.64 91.96L536.24 92.75L536.82 93.56L537.39 94.36L537.96 95.18L538.51 96.00L539.06 96.82L539.60 97.65L540.13 98.49L540.65 99.34L541.16 100.18L541.67 101.04L542.17 101.90L542.66 102.77L543.15 103.64L543.63 104.52L544.10 105.40L544.57 106.29L545.03 107.18L545.48 108.08L545.93 108.98L546.38 109.88L546.82 110.79L547.25 111.70L547.68 112.62L548.11 113.54L548.53 114.46L548.95 115.38L549.36 116.31L549.77 117.24L550.18 118.17L550.59 119.10L550.99 120.03L551.39 120.97L551.78 121.90L552.18 122.84L552.57 123.78L552.96 124.71L553.35 125.65L553.74 126.59L554.12 127.52L554.51 128.46L554.89 129.40L555.27 130.33L555.65 131.27L556.02 132.21L556.39 133.14L556.76 134.08L557.13 135.02L557.49 135.96L557.86 136.90L558.21 137.84L558.57 138.78L558.92 139.73L559.27 140.67L559.61 141.61L559.96 142.56L560.29 143.50L560.63 144.45L560.96 145.40L561.28 146.35L561.61 147.30L561.92 148.25L562.24 149.20L562.55 150.16L562.85 151.11L563.15 152.07L563.44 153.03L563.73 153.99L564.02 154.95L564.30 155.91L564.57 156.88L564.84 157.85L565.11 158.81L565.37 159.79L565.62 160.76L565.86 161.73L566.11 162.71L566.34 163.69L566.57 164.67L566.79 165.65L567.01 166.64L567.22 167.63L567.42 168.62L567.62 169.61L567.81 170.61L567.99 171.60L568.17 172.61L568.34 173.61L568.50 174.61L568.66 175.62L568.80 176.64" fill="none" stroke="#d43c3c" stroke-width="1.2" stroke-dasharray="1 1.3"/>
</g>
<g clip-path="url(#clipc)">
<path d="M43.54 258.66L44.53 258.68L45.53 258.70L46.53 258.72L47.52 258.74L48.52 258.76L49.52 258.78L50.52 258.80L51.52 258.82L52.52 258.84L53.52 258.86L54.52 258.87L55.52 258.89L56.53 258.91L57.53 258.93L58.53 258.95L59.54 258.97L60.54 258.99L61.54 259.01L62.55 259.03L63.55 259.05L64.56 259.07L65.57 259.09L66.57 259.11L67.58 259.13L68.59 259.16L69.59 259.18L70.60 259.20L71.61 259.23L72.61 259.26L73.62 259.28L74.63 259.31L75.64 259.34L76.65 259.37L77.66 259.40L78.66 259.44L79.67 259.47L80.68 259.51L81.69 259.54L82.70 259.58L83.71 259.62L84.72 259.66L85.73 259.71L86.74 259.75L87.75 259.80L88.75 259.84L89.76 259.89L90.77 259.94L91.78 260.00L92.79 260.05L93.80 260.11L94.81 260.17L95.81 260.23L96.82 260.30L97.83 260.36L98.84 260.43L99.85 260.50L100.85 260.57L101.86 260.65L102.87 260.73L103.87 260.81L104.88 260.89L105.89 260.97L106.89 261.06L107.90 261.15L108.90 261.25L109.91 261.34L110.91 261.44L111.91 261.54L112.92 261.65L113.92 261.76L114.92 261.87L115.92 261.98L116.92 262.10L117.93 262.22L118.93 262.34L119.93 262.47L120.92 262.60L121.92 262.74L122.92 262.87L123.92 263.02L124.92 263.16L125.91 263.31L126.91 263.46L127.90 263.62L128.90 263.78L129.89 263.94L130.88 264.11L131.88 264.28L132.87 264.46L133.86 264.64L134.85 264.82L135.84 265.01L136.82 265.20L137.81 265.40L138.80 265.60L139.78 265.80L140.77 266.01L141.75 266.23L142.74 266.45L143.72 266.67L144.70 266.90L145.68 267.13L146.66 267.37L147.64 267.61L148.61 267.86L149.59 268.11L150.57 268.37L151.54 268.63L152.51 268.90L153.49 269.17L154.46 269.45L155.43 269.73L156.40 270.02L157.36 270.31L158.33 270.61L159.29 270.92L160.26 271.23L161.22 271.55L162.17 271.87L163.13 272.20L164.08 272.54L165.03 272.89L165.97 273.24L166.91 273.61L167.85 273.98L168.78 274.36L169.71 274.75L170.63 275.15L171.55 275.56L172.46 275.97L173.36 276.40L174.26 276.84L175.15 277.29L176.04 277.75L176.92 278.23L177.79 278.71L178.65 279.21L179.51 279.72L180.36 280.24L181.20 280.77L182.03 281.31L182.86 281.87L183.68 282.43L184.49 283.01L185.29 283.59L186.09 284.19L186.88 284.80L187.66 285.41L188.43 286.04L189.20 286.67L189.96 287.31L190.72 287.97L191.47 288.62L192.21 289.29L192.94 289.97L193.67 290.65L194.39 291.34L195.10 292.04L195.81 292.74L196.51 293.45L197.21 294.17L197.89 294.90L198.58 295.63L199.25 296.37L199.92 297.12L200.59 297.87L201.24 298.63L201.90 299.40L202.54 300.17L203.18 300.95L203.81 301.73L204.44 302.52L205.06 303.32L205.68 304.12L206.29 304.92L206.90 305.74L207.50 306.55L208.09 307.37L208.68 308.20L209.26 309.03L209.84 309.86L210.41 310.70L210.98 311.55L211.54 312.39L212.10 313.25L212.65 314.10L213.20 314.96L213.74 315.83L214.27 316.69L214.81 317.56L215.33 318.44L215.85 319.31L216.37 320.19L216.88 321.07L217.39 321.96L217.90 322.85L218.39 323.74L218.89 324.63L219.38 325.53L219.86 326.42L220.34 327.32L220.82 328.22L221.29 329.13L221.76 330.03L222.22 330.94L222.68 331.84L223.14 332.75L223.59 333.66L224.04 334.57L224.48 335.48L224.92 336.40L225.36 337.31L225.79 338.22L226.22 339.14L226.65 340.05L227.08 340.96L227.50 341.88L227.92 342.79L228.34 343.71L228.75 344.62L229.17 345.54L229.58 346.45L230.00 347.37L230.41 348.28L230.82 349.19L231.23 350.11L231.64 351.02L232.05 351.93L232.47 352.84L232.88 353.75L233.29 354.66L233.71 355.57L234.12 356.48L234.54 357.38L234.96 358.29L235.38 359.19L235.80 360.09L236.23 360.99L236.65 361.89L237.09 362.78L237.52 363.68L237.96 364.57L238.40 365.46L238.84 366.35L239.29 367.24L239.75 368.12L240.20 369.00L240.67 369.88L241.14 370.76L241.61 371.64L242.09 372.51L242.57 373.38L243.06 374.24L243.56 375.11L244.06 375.97L244.57 376.82L245.08 377.68L245.61 378.53L246.14 379.38L246.67 380.22L247.22 381.06L247.77 381.90L248.34 382.73L248.91 383.56L249.48 384.39L250.07 385.21L250.67 386.03L251.28 386.84L251.89 387.65L252.52 388.46L253.15 389.26L253.80 390.06L254.46 390.85L255.12 391.64L255.80 392.42L256.49 393.20" fill="none" stroke="#1a1a1a" stroke-width="1.3" stroke-linejoin="round"/>
<path d="M43.58 258.65L44.57 258.68L45.56 258.70L46.55 258.73L47.54 258.75L48.53 258.78L49.53 258.80L50.52 258.83L51.51 258.86L52.51 258.88L53.50 258.91L54.50 258.93L55.50 258.96L56.49 258.98L57.49 259.01L58.49 259.04L59.48 259.07L60.48 259.10L61.48 259.13L62.48 259.16L63.48 259.19L64.48 259.22L65.48 259.25L66.48 259.28L67.48 259.32L68.48 259.35L69.49 259.39L70.49 259.43L71.49 259.47L72.49 259.51L73.50 259.55L74.50 259.60L75.50 259.64L76.50 259.69L77.51 259.74L78.51 259.79L79.51 259.84L80.52 259.89L81.52 259.95L82.53 260.01L83.53 260.06L84.53 260.13L85.54 260.19L86.54 260.26L87.54 260.33L88.55 260.40L89.55 260.47L90.55 260.54L91.56 260.62L92.56 260.70L93.56 260.79L94.57 260.87L95.57 260.96L96.57 261.05L97.57 261.15L98.58 261.24L99.58 261.35L100.58 261.45L101.58 261.56L102.58 261.67L103.58 261.78L104.58 261.89L105.58 262.01L106.58 262.14L107.58 262.26L108.58 262.39L109.58 262.53L110.58 262.67L111.57 262.81L112.57 262.95L113.57 263.10L114.56 263.25L115.56 263.41L116.55 263.57L117.55 263.74L118.54 263.91L119.53 264.08L120.52 264.26L121.52 264.44L122.51 264.63L123.50 264.82L124.49 265.01L125.48 265.21L126.46 265.42L127.45 265.63L128.44 265.84L129.42 266.06L130.41 266.29L131.39 266.51L132.38 266.75L133.36 266.99L134.34 267.23L135.32 267.48L136.30 267.74L137.28 268.00L138.26 268.26L139.23 268.53L140.21 268.81L141.18 269.09L142.16 269.38L143.13 269.67L144.10 269.97L145.06 270.28L146.03 270.59L146.99 270.91L147.95 271.24L148.91 271.57L149.86 271.91L150.81 272.25L151.76 272.60L152.70 272.96L153.64 273.33L154.58 273.70L155.52 274.08L156.44 274.47L157.37 274.86L158.29 275.26L159.21 275.67L160.12 276.09L161.03 276.52L161.93 276.95L162.83 277.39L163.72 277.84L164.60 278.30L165.48 278.76L166.36 279.24L167.23 279.72L168.09 280.21L168.94 280.71L169.79 281.22L170.64 281.74L171.47 282.27L172.30 282.80L173.12 283.35L173.94 283.91L174.75 284.47L175.55 285.04L176.34 285.63L177.12 286.22L177.90 286.83L178.67 287.44L179.43 288.06L180.18 288.69L180.92 289.33L181.66 289.98L182.39 290.64L183.11 291.31L183.83 291.98L184.53 292.67L185.23 293.36L185.93 294.06L186.61 294.77L187.29 295.49L187.96 296.21L188.62 296.94L189.28 297.68L189.93 298.43L190.58 299.19L191.21 299.95L191.84 300.71L192.47 301.49L193.09 302.27L193.70 303.06L194.30 303.85L194.90 304.65L195.49 305.46L196.08 306.27L196.66 307.09L197.23 307.91L197.80 308.74L198.36 309.58L198.92 310.42L199.47 311.26L200.01 312.11L200.55 312.97L201.08 313.83L201.61 314.69L202.13 315.56L202.65 316.43L203.16 317.31L203.67 318.19L204.17 319.07L204.66 319.96L205.15 320.85L205.64 321.75L206.12 322.65L206.60 323.55L207.07 324.45L207.54 325.36L208.00 326.27L208.46 327.18L208.91 328.09L209.36 329.01L209.80 329.93L210.24 330.85L210.68 331.77L211.11 332.70L211.53 333.62L211.96 334.55L212.38 335.48L212.79 336.41L213.20 337.34L213.61 338.27L214.01 339.20L214.42 340.14L214.81 341.07L215.20 342.00L215.59 342.94L215.98 343.87L216.36 344.81L216.74 345.75L217.11 346.69L217.49 347.63L217.85 348.56L218.22 349.50L218.58 350.44L218.94 351.39L219.29 352.33L219.64 353.27L219.99 354.21L220.34 355.16L220.68 356.10L221.02 357.05L221.35 357.99L221.68 358.94L222.01 359.89L222.34 360.83L222.66 361.78L222.98 362.73L223.30 363.68L223.61 364.63L223.92 365.58L224.23 366.53L224.53 367.48L224.83 368.43L225.13 369.38L225.43 370.34L225.72 371.29L226.01 372.24L226.30 373.20L226.59 374.15L226.87 375.11L227.15 376.06L227.43 377.02L227.70 377.98L227.97 378.93L228.24 379.89L228.51 380.85L228.78 381.81L229.04 382.76L229.30 383.72L229.55 384.68L229.81 385.64L230.06 386.60L230.31 387.56L230.56 388.52L230.81 389.49L231.05 390.45L231.29 391.41L231.53 392.37L231.77 393.34L232.00 394.30" fill="none" stroke="#d43c3c" stroke-width="1.3" stroke-dasharray="3.3 3.8"/>
<path d="M167.81 393.38L168.04 392.40L168.25 391.43L168.45 390.44L168.63 389.45L168.80 388.46L168.95 387.47L169.09 386.47L169.22 385.47L169.35 384.46L169.46 383.46L169.56 382.45L169.65 381.44L169.74 380.42L169.82 379.41L169.89 378.39L169.96 377.37L170.02 376.35L170.08 375.33L170.14 374.31L170.20 373.29L170.25 372.27L170.31 371.25L170.36 370.23L170.42 369.21L170.48 368.19L170.54 367.18L170.61 366.16L170.68 365.14L170.76 364.13L170.85 363.12L170.94 362.11L171.04 361.10L171.14 360.10L171.26 359.10L171.39 358.10L171.53 357.11L171.68 356.12L171.84 355.13L172.02 354.15L172.21 353.17L172.42 352.19L172.65 351.22L172.89 350.26L173.15 349.30L173.42 348.35L173.72 347.40L174.04 346.46L174.38 345.52L174.73 344.58L175.11 343.65L175.50 342.72L175.92 341.79L176.35 340.85L176.80 339.91L177.26 338.96L177.75 338.01L178.25 337.06L178.78 336.13L179.34 335.23L179.92 334.36L180.54 333.53L181.20 332.76L181.89 332.05L182.63 331.42L183.42 330.87L184.24 330.40L185.11 330.01L186.02 329.70L186.95 329.45L187.91 329.26L188.89 329.13L189.89 329.04L190.91 329.00L191.93 328.99L192.95 329.02L193.97 329.08L194.99 329.15L196.01 329.26L197.02 329.38L198.03 329.53L199.03 329.70L200.03 329.90L201.03 330.12L202.01 330.36L203.00 330.63L203.97 330.92L204.93 331.23L205.89 331.56L206.84 331.91L207.78 332.29L208.71 332.68L209.63 333.10L210.53 333.54L211.43 334.00L212.31 334.47L213.19 334.97L214.04 335.49L214.89 336.03L215.72 336.59L216.54 337.17L217.34 337.77L218.13 338.38L218.90 339.02L219.66 339.67L220.41 340.33L221.15 341.02L221.87 341.71L222.57 342.43L223.27 343.15L223.95 343.89L224.62 344.65L225.28 345.41L225.93 346.19L226.56 346.98L227.19 347.78L227.80 348.59L228.40 349.40L228.99 350.23L229.57 351.07L230.14 351.91L230.70 352.76L231.26 353.62L231.80 354.48L232.33 355.35L232.85 356.22L233.37 357.09L233.87 357.97L234.37 358.86L234.86 359.74L235.34 360.63L235.81 361.52L236.28 362.41L236.73 363.29L237.19 364.18L237.63 365.07L238.07 365.95" fill="none" stroke="#1a1a1a" stroke-width="1.3" stroke-dasharray="3.8 1.7 1 1.7"/>
<path d="M169.00 390.20L168.78 388.93L168.64 387.72L168.58 386.57L168.59 385.48L168.67 384.43L168.82 383.43L169.02 382.46L169.29 381.54L169.60 380.64L169.96 379.76L170.36 378.91L170.80 378.06L171.28 377.23L171.78 376.41L172.31 375.59L172.86 374.76L173.42 373.92L173.99 373.07L174.57 372.20L175.15 371.31L175.73 370.39L176.32 369.46L176.94 368.56L177.58 367.71L178.28 366.94L179.03 366.28L179.87 365.74L180.77 365.37L181.72 365.17L182.68 365.15L183.62 365.34L184.50 365.73L185.33 366.30L186.12 367.01L186.85 367.80L187.56 368.65L188.22 369.50L188.86 370.33L189.47 371.15L190.06 371.96L190.63 372.76L191.18 373.56L191.71 374.35L192.23 375.15L192.75 375.96L193.26 376.78L193.77 377.62L194.27 378.47L194.78 379.35L195.30 380.25L195.83 381.18L196.37 382.15L196.92 383.16L197.49 384.21L198.08 385.29L198.66 386.34L199.23 387.29L199.76 388.07L200.22 388.61L200.60 388.84L200.89 388.72L201.10 388.30L201.25 387.60L201.33 386.68L201.38 385.58L201.41 384.34L201.41 383.00L201.42 381.62L201.45 380.22L201.50 378.86L201.58 377.58L201.72 376.40L201.92 375.31L202.16 374.31L202.47 373.38L202.84 372.51L203.27 371.69L203.77 370.92L204.34 370.18L204.98 369.46L205.69 368.75L206.49 368.05L207.34 367.35L208.23 366.66L209.14 365.98L210.03 365.32L210.90 364.75L211.75 364.31L212.56 364.08L213.33 364.10L214.05 364.40L214.73 364.94L215.35 365.67L215.93 366.52L216.45 367.45L216.93 368.41L217.35 369.40L217.74 370.41L218.09 371.42L218.40 372.45L218.69 373.47L218.96 374.49L219.21 375.49L219.44 376.49L219.65 377.47L219.85 378.46L220.03 379.43L220.20 380.41L220.35 381.38L220.49 382.36L220.62 383.33L220.74 384.31L220.84 385.30L220.93 386.29L221.02 387.30L221.09 388.31L221.15 389.33L221.21 390.37L221.26 391.43L221.30 392.50" fill="none" stroke="#d43c3c" stroke-width="1.2" stroke-dasharray="1 1.3"/>
</g>
<path d="M43.9 358.0H292.0" stroke="#333" stroke-width="1.5" stroke-dasharray="6.4 2.1 1 2.1 1 2.1 1 2.59"/>
<g clip-path="url(#clipd)">
<path d="M342.39 258.31L343.41 258.33L344.43 258.34L345.45 258.36L346.47 258.37L347.49 258.39L348.50 258.40L349.52 258.41L350.54 258.42L351.55 258.43L352.57 258.44L353.59 258.44L354.60 258.45L355.62 258.46L356.63 258.46L357.65 258.47L358.66 258.47L359.67 258.48L360.69 258.48L361.70 258.48L362.72 258.48L363.73 258.49L364.74 258.49L365.75 258.49L366.77 258.49L367.78 258.49L368.79 258.49L369.80 258.49L370.81 258.49L371.82 258.49L372.83 258.49L373.84 258.49L374.85 258.49L375.86 258.49L376.87 258.49L377.88 258.49L378.89 258.49L379.90 258.49L380.91 258.49L381.91 258.49L382.92 258.49L383.93 258.50L384.94 258.50L385.94 258.50L386.95 258.50L387.96 258.51L388.96 258.51L389.97 258.51L390.97 258.52L391.98 258.52L392.99 258.53L393.99 258.53L394.99 258.54L396.00 258.55L397.00 258.56L398.01 258.57L399.01 258.58L400.02 258.59L401.02 258.60L402.02 258.61L403.02 258.63L404.03 258.64L405.03 258.66L406.03 258.68L407.03 258.69L408.04 258.71L409.04 258.74L410.04 258.76L411.04 258.78L412.04 258.80L413.04 258.83L414.04 258.86L415.04 258.89L416.04 258.92L417.04 258.95L418.04 258.98L419.04 259.02L420.04 259.05L421.04 259.09L422.04 259.13L423.04 259.17L424.04 259.21L425.03 259.26L426.03 259.31L427.03 259.35L428.03 259.41L429.03 259.46L430.02 259.51L431.02 259.57L432.02 259.63L433.01 259.69L434.01 259.75L435.01 259.81L436.00 259.88L437.00 259.95L438.00 260.02L438.99 260.09L439.99 260.17L440.98 260.25L441.98 260.33L442.97 260.41L443.97 260.50L444.96 260.59L445.96 260.68L446.95 260.77L447.95 260.87L448.94 260.96L449.93 261.06L450.93 261.17L451.92 261.28L452.92 261.38L453.91 261.50L454.90 261.61L455.90 261.73L456.89 261.85L457.88 261.97L458.87 262.10L459.87 262.23L460.86 262.36L461.85 262.50L462.84 262.64L463.84 262.78L464.83 262.93L465.82 263.07L466.81 263.23L467.80 263.38L468.79 263.54L469.78 263.70L470.78 263.87L471.77 264.04L472.76 264.21L473.75 264.39L474.74 264.56L475.73 264.75L476.72 264.94L477.71 265.13L478.70 265.32L479.69 265.52L480.68 265.72L481.67 265.93L482.66 266.13L483.65 266.35L484.64 266.57L485.63 266.79L486.62 267.01L487.61 267.24L488.60 267.47L489.58 267.71L490.57 267.95L491.56 268.20L492.55 268.45L493.54 268.71L494.52 268.97L495.51 269.23L496.49 269.50L497.48 269.78L498.46 270.06L499.43 270.35L500.41 270.64L501.38 270.95L502.35 271.26L503.32 271.57L504.28 271.89L505.24 272.22L506.20 272.56L507.15 272.91L508.10 273.26L509.04 273.63L509.98 274.00L510.91 274.38L511.84 274.77L512.76 275.17L513.67 275.58L514.58 276.00L515.49 276.43L516.38 276.87L517.27 277.32L518.15 277.78L519.03 278.26L519.90 278.74L520.76 279.23L521.61 279.74L522.45 280.26L523.29 280.79L524.11 281.33L524.93 281.89L525.74 282.45L526.54 283.03L527.34 283.62L528.12 284.22L528.90 284.83L529.67 285.45L530.43 286.08L531.18 286.72L531.92 287.37L532.66 288.04L533.38 288.71L534.10 289.39L534.81 290.09L535.51 290.79L536.20 291.50L536.89 292.23L537.56 292.96L538.23 293.70L538.89 294.45L539.54 295.21L540.18 295.98L540.81 296.76L541.44 297.55L542.05 298.34L542.67 299.14L543.27 299.95L543.87 300.76L544.46 301.58L545.05 302.40L545.63 303.23L546.21 304.07L546.79 304.90L547.36 305.75L547.92 306.59L548.49 307.44L549.04 308.29L549.60 309.14L550.16 309.99L550.71 310.84L551.26 311.70L551.81 312.55L552.35 313.40L552.90 314.26L553.45 315.11L554.00 315.96L554.54 316.81L555.09 317.66L555.63 318.50L556.18 319.35L556.72 320.20L557.26 321.04L557.79 321.89L558.33 322.74L558.86 323.59L559.38 324.44L559.90 325.29L560.42 326.14L560.93 327.00L561.44 327.86L561.94 328.72L562.43 329.59L562.92 330.46L563.40 331.34L563.87 332.22L564.34 333.10L564.80 333.99L565.25 334.88L565.69 335.77L566.13 336.67L566.56 337.58L566.99 338.48L567.42 339.39L567.84 340.30L568.25 341.21L568.66 342.13L569.07 343.05L569.47 343.97L569.87 344.89L570.27 345.82L570.67 346.74L571.06 347.67L571.46 348.60L571.85 349.52L572.24 350.45L572.63 351.38L573.02 352.31L573.41 353.24L573.80 354.17L574.19 355.10L574.58 356.03L574.98 356.96L575.37 357.89L575.77 358.82L576.17 359.74L576.58 360.66L576.98 361.59L577.39 362.51L577.81 363.43L578.23 364.34L578.65 365.25L579.08 366.17L579.51 367.07L579.95 367.98L580.39 368.88L580.84 369.78L581.30 370.67L581.76 371.57L582.24 372.45L582.71 373.34L583.20 374.21L583.70 375.09L584.20 375.96L584.71 376.82L585.23 377.68L585.77 378.53L586.31 379.38L586.86 380.23L587.42 381.06L587.99 381.89L588.58 382.72" fill="none" stroke="#1a1a1a" stroke-width="1.3" stroke-linejoin="round"/>
<path d="M342.41 258.39L343.38 258.40L344.36 258.40L345.34 258.41L346.32 258.41L347.30 258.42L348.29 258.42L349.27 258.42L350.25 258.42L351.24 258.43L352.22 258.43L353.21 258.43L354.20 258.43L355.19 258.43L356.18 258.43L357.17 258.43L358.16 258.43L359.15 258.42L360.15 258.42L361.14 258.42L362.13 258.42L363.13 258.42L364.12 258.42L365.12 258.42L366.12 258.41L367.12 258.41L368.12 258.41L369.12 258.41L370.12 258.41L371.12 258.41L372.12 258.41L373.12 258.41L374.12 258.41L375.12 258.41L376.13 258.41L377.13 258.42L378.14 258.42L379.14 258.42L380.15 258.43L381.15 258.43L382.16 258.44L383.17 258.44L384.17 258.45L385.18 258.46L386.19 258.47L387.20 258.48L388.20 258.49L389.21 258.50L390.22 258.51L391.23 258.52L392.24 258.54L393.25 258.55L394.26 258.57L395.27 258.59L396.28 258.61L397.29 258.63L398.30 258.65L399.31 258.68L400.33 258.70L401.34 258.73L402.35 258.76L403.36 258.79L404.37 258.82L405.38 258.85L406.39 258.88L407.40 258.92L408.42 258.96L409.43 259.00L410.44 259.04L411.45 259.08L412.46 259.13L413.47 259.18L414.48 259.23L415.50 259.28L416.51 259.33L417.52 259.39L418.53 259.44L419.54 259.50L420.55 259.57L421.56 259.63L422.57 259.70L423.58 259.77L424.59 259.84L425.59 259.91L426.60 259.99L427.61 260.07L428.62 260.15L429.63 260.23L430.63 260.32L431.64 260.41L432.65 260.50L433.65 260.59L434.66 260.69L435.66 260.79L436.67 260.89L437.67 261.00L438.67 261.11L439.68 261.22L440.68 261.33L441.68 261.45L442.68 261.57L443.68 261.70L444.68 261.82L445.68 261.96L446.68 262.09L447.68 262.23L448.68 262.37L449.67 262.51L450.67 262.66L451.66 262.81L452.66 262.96L453.65 263.12L454.65 263.28L455.64 263.45L456.63 263.61L457.62 263.79L458.61 263.96L459.60 264.14L460.59 264.33L461.57 264.51L462.56 264.70L463.54 264.90L464.53 265.10L465.51 265.30L466.49 265.51L467.48 265.72L468.46 265.94L469.44 266.16L470.41 266.38L471.39 266.61L472.37 266.84L473.34 267.08L474.32 267.32L475.29 267.56L476.26 267.81L477.23 268.07L478.20 268.33L479.17 268.59L480.13 268.86L481.10 269.13L482.06 269.41L483.03 269.69L483.99 269.98L484.95 270.27L485.91 270.56L486.87 270.86L487.82 271.17L488.78 271.48L489.73 271.80L490.68 272.12L491.64 272.45L492.58 272.78L493.53 273.12L494.48 273.46L495.42 273.81L496.36 274.17L497.29 274.53L498.22 274.90L499.15 275.28L500.08 275.66L501.00 276.05L501.91 276.46L502.82 276.87L503.73 277.28L504.63 277.71L505.52 278.15L506.41 278.59L507.29 279.05L508.17 279.51L509.04 279.99L509.90 280.48L510.75 280.97L511.60 281.48L512.44 282.00L513.27 282.53L514.09 283.08L514.91 283.63L515.71 284.20L516.51 284.78L517.29 285.37L518.07 285.98L518.84 286.60L519.59 287.23L520.34 287.88L521.08 288.53L521.81 289.20L522.53 289.88L523.24 290.57L523.94 291.27L524.63 291.98L525.32 292.70L526.00 293.43L526.67 294.17L527.33 294.91L527.98 295.67L528.63 296.43L529.27 297.21L529.90 297.99L530.52 298.77L531.14 299.57L531.75 300.37L532.36 301.17L532.95 301.98L533.54 302.80L534.13 303.62L534.71 304.45L535.28 305.29L535.85 306.12L536.42 306.97L536.98 307.81L537.53 308.66L538.08 309.52L538.63 310.37L539.17 311.23L539.71 312.10L540.24 312.96L540.77 313.83L541.30 314.70L541.82 315.57L542.35 316.44L542.87 317.31L543.38 318.18L543.90 319.06L544.41 319.93L544.92 320.80L545.43 321.68L545.94 322.55L546.45 323.42L546.95 324.30L547.45 325.17L547.95 326.05L548.44 326.93L548.93 327.81L549.42 328.68L549.90 329.56L550.39 330.44L550.86 331.33L551.34 332.21L551.81 333.09L552.27 333.98L552.74 334.87L553.19 335.76L553.65 336.65L554.10 337.54L554.54 338.44L554.98 339.33L555.42 340.23L555.85 341.13L556.27 342.03L556.69 342.94L557.11 343.85L557.52 344.76L557.93 345.67L558.33 346.58L558.73 347.49L559.12 348.41L559.51 349.33L559.89 350.25L560.27 351.17L560.64 352.10L561.01 353.02L561.37 353.95L561.73 354.88L562.08 355.81L562.43 356.75L562.78 357.68L563.12 358.62L563.45 359.56L563.78 360.50L564.11 361.45L564.43 362.39L564.74 363.34L565.05 364.29L565.36 365.24L565.66 366.20L565.95 367.15L566.25 368.11L566.53 369.07L566.81 370.03L567.09 370.99L567.36 371.96L567.63 372.93L567.89 373.90L568.15 374.87L568.40 375.84L568.65 376.81L568.89 377.79L569.13 378.77L569.36 379.75L569.59 380.73L569.81 381.72L570.03 382.70L570.24 383.69L570.45 384.68L570.66 385.67L570.85 386.67L571.05 387.66L571.24 388.66L571.42 389.66L571.60 390.66L571.77 391.66L571.94 392.67L572.11 393.68" fill="none" stroke="#d43c3c" stroke-width="1.3" stroke-dasharray="3.3 3.8"/>
<path d="M464.02 388.59L464.22 387.59L464.40 386.59L464.58 385.59L464.76 384.58L464.93 383.58L465.09 382.58L465.25 381.58L465.41 380.57L465.56 379.57L465.70 378.57L465.85 377.56L465.98 376.56L466.12 375.56L466.25 374.56L466.38 373.55L466.51 372.55L466.64 371.55L466.76 370.54L466.88 369.54L467.00 368.54L467.12 367.53L467.23 366.53L467.35 365.53L467.47 364.53L467.58 363.52L467.70 362.52L467.81 361.52L467.93 360.51L468.04 359.51L468.16 358.51L468.28 357.51L468.40 356.50L468.52 355.50L468.64 354.50L468.77 353.49L468.89 352.49L469.02 351.49L469.16 350.49L469.29 349.48L469.43 348.48L469.58 347.48L469.72 346.48L469.87 345.47L470.03 344.47L470.19 343.47L470.35 342.47L470.52 341.46L470.70 340.46L470.88 339.46L471.06 338.46L471.25 337.46L471.45 336.46L471.66 335.45L471.87 334.45L472.09 333.45L472.31 332.45L472.55 331.45L472.79 330.45L473.04 329.45L473.30 328.45L473.57 327.46L473.86 326.48L474.16 325.50L474.48 324.53L474.81 323.56L475.16 322.61L475.52 321.67L475.91 320.74L476.32 319.82L476.75 318.92L477.20 318.03L477.68 317.16L478.18 316.31L478.71 315.47L479.27 314.66L479.85 313.86L480.45 313.08L481.07 312.31L481.71 311.56L482.37 310.83L483.05 310.11L483.75 309.40L484.46 308.71L485.19 308.03L485.93 307.36L486.68 306.70L487.44 306.06L488.22 305.42L489.00 304.80L489.79 304.18L490.59 303.57L491.39 302.97L492.21 302.38L493.03 301.79L493.85 301.21L494.69 300.63L495.53 300.06L496.37 299.49L497.22 298.92L498.07 298.36L498.93 297.80L499.79 297.24L500.66 296.68L501.53 296.12L502.40 295.56L503.27 295.00L504.15 294.44L505.03 293.88L505.91 293.32L506.79 292.76L507.68 292.21L508.57 291.67L509.47 291.14L510.37 290.63L511.27 290.14L512.18 289.67L513.10 289.22L514.02 288.80L514.95 288.40L515.89 288.04L516.83 287.71L517.78 287.41L518.74 287.16L519.71 286.94L520.68 286.77L521.65 286.64L522.62 286.56L523.59 286.52L524.56 286.53L525.52 286.58L526.48 286.69L527.42 286.85L528.36 287.06L529.27 287.32L530.18 287.64L531.06 288.01L531.92 288.45L532.76 288.94L533.58 289.49L534.36 290.11L535.12 290.78L535.85 291.52L536.55 292.33L537.20 293.20L537.83 294.14L538.41 295.15L538.95 296.23L539.44 297.38" fill="none" stroke="#1a1a1a" stroke-width="1.3" stroke-dasharray="3.8 1.7 1 1.7"/>
<path d="M464.76 388.03L464.95 387.01L465.13 385.99L465.31 384.98L465.48 383.97L465.64 382.96L465.79 381.95L465.94 380.95L466.09 379.94L466.23 378.94L466.36 377.94L466.49 376.94L466.62 375.94L466.74 374.94L466.86 373.95L466.98 372.95L467.09 371.96L467.20 370.96L467.31 369.97L467.42 368.98L467.53 367.99L467.64 367.00L467.74 366.01L467.85 365.02L467.96 364.03L468.06 363.04L468.17 362.06L468.28 361.07L468.39 360.08L468.51 359.10L468.62 358.11L468.74 357.12L468.87 356.14L468.99 355.15L469.13 354.16L469.26 353.18L469.40 352.19L469.55 351.20L469.70 350.21L469.85 349.23L470.02 348.24L470.19 347.25L470.36 346.26L470.55 345.27L470.74 344.27L470.94 343.28L471.15 342.29L471.36 341.29L471.59 340.30L471.83 339.30L472.07 338.31L472.33 337.31L472.60 336.31L472.88 335.31L473.17 334.31L473.47 333.31L473.79 332.33L474.13 331.34L474.49 330.37L474.86 329.42L475.25 328.47L475.67 327.54L476.11 326.63L476.57 325.74L477.05 324.87L477.57 324.02L478.10 323.20L478.67 322.40L479.27 321.64L479.90 320.91L480.56 320.21L481.25 319.55L481.98 318.92L482.74 318.32L483.53 317.76L484.34 317.22L485.18 316.71L486.04 316.21L486.91 315.73L487.80 315.27L488.70 314.81L489.61 314.36L490.53 313.91L491.45 313.46L492.37 313.01L493.29 312.54L494.21 312.07L495.12 311.58L496.01 311.07L496.90 310.55L497.77 309.99L498.63 309.42L499.47 308.82L500.30 308.21L501.13 307.60L501.95 306.97L502.76 306.35L503.57 305.73L504.38 305.11L505.19 304.51L506.00 303.92L506.82 303.35L507.65 302.80L508.48 302.29L509.33 301.80L510.19 301.35L511.06 300.94L511.95 300.58L512.86 300.26L513.79 300.00L514.74 299.80L515.71 299.66L516.71 299.58L517.73 299.56L518.75 299.61L519.77 299.72L520.79 299.89L521.79 300.13L522.78 300.42L523.74 300.78L524.67 301.19L525.59 301.65L526.49 302.14L527.36 302.67L528.22 303.23L529.07 303.81L529.90 304.41L530.72 305.01L531.53 305.63L532.32 306.26L533.11 306.89L533.87 307.55L534.63 308.21L535.37 308.89L536.09 309.58L536.80 310.28L537.50 311.00L538.17 311.73L538.84 312.48L539.49 313.24L540.12 314.01L540.74 314.79L541.35 315.58L541.95 316.38L542.54 317.20L543.11 318.02L543.68 318.85L544.23 319.69L544.78 320.54L545.32 321.39L545.85 322.25L546.37 323.11L546.88 323.98L547.39 324.85L547.90 325.73L548.40 326.61L548.90 327.49L549.39 328.37L549.88 329.25L550.36 330.14L550.85 331.03L551.33 331.91L551.80 332.80L552.28 333.69L552.74 334.59L553.21 335.48L553.67 336.37L554.13 337.27L554.58 338.17L555.03 339.07L555.47 339.97L555.91 340.88L556.34 341.78L556.77 342.69L557.20 343.60L557.62 344.51L558.03 345.42L558.44 346.34L558.84 347.26L559.24 348.18L559.64 349.10L560.02 350.03L560.40 350.95L560.78 351.88L561.15 352.82L561.51 353.75L561.87 354.69L562.22 355.63L562.56 356.57L562.90 357.52L563.23 358.47L563.55 359.42L563.87 360.37L564.18 361.33L564.48 362.29L564.78 363.25L565.07 364.22L565.35 365.19L565.63 366.16L565.90 367.13L566.17 368.10L566.43 369.08L566.69 370.05L566.94 371.03L567.19 372.01L567.44 372.99L567.68 373.98L567.92 374.96L568.16 375.94L568.39 376.93L568.63 377.91L568.86 378.90L569.08 379.88L569.31 380.86L569.54 381.85L569.76 382.83L569.99 383.81L570.21 384.79L570.44 385.78L570.66 386.76L570.89 387.73L571.12 388.71L571.34 389.69L571.57 390.66L571.81 391.63L572.04 392.60L572.28 393.57" fill="none" stroke="#d43c3c" stroke-width="1.2" stroke-dasharray="1 1.3"/>
</g>
<path d="M342.79999999999995 358.0H591.0" stroke="#333" stroke-width="1.5" stroke-dasharray="6.4 2.1 1 2.1 1 2.1 1 2.59"/>
</svg>
</body></html>
